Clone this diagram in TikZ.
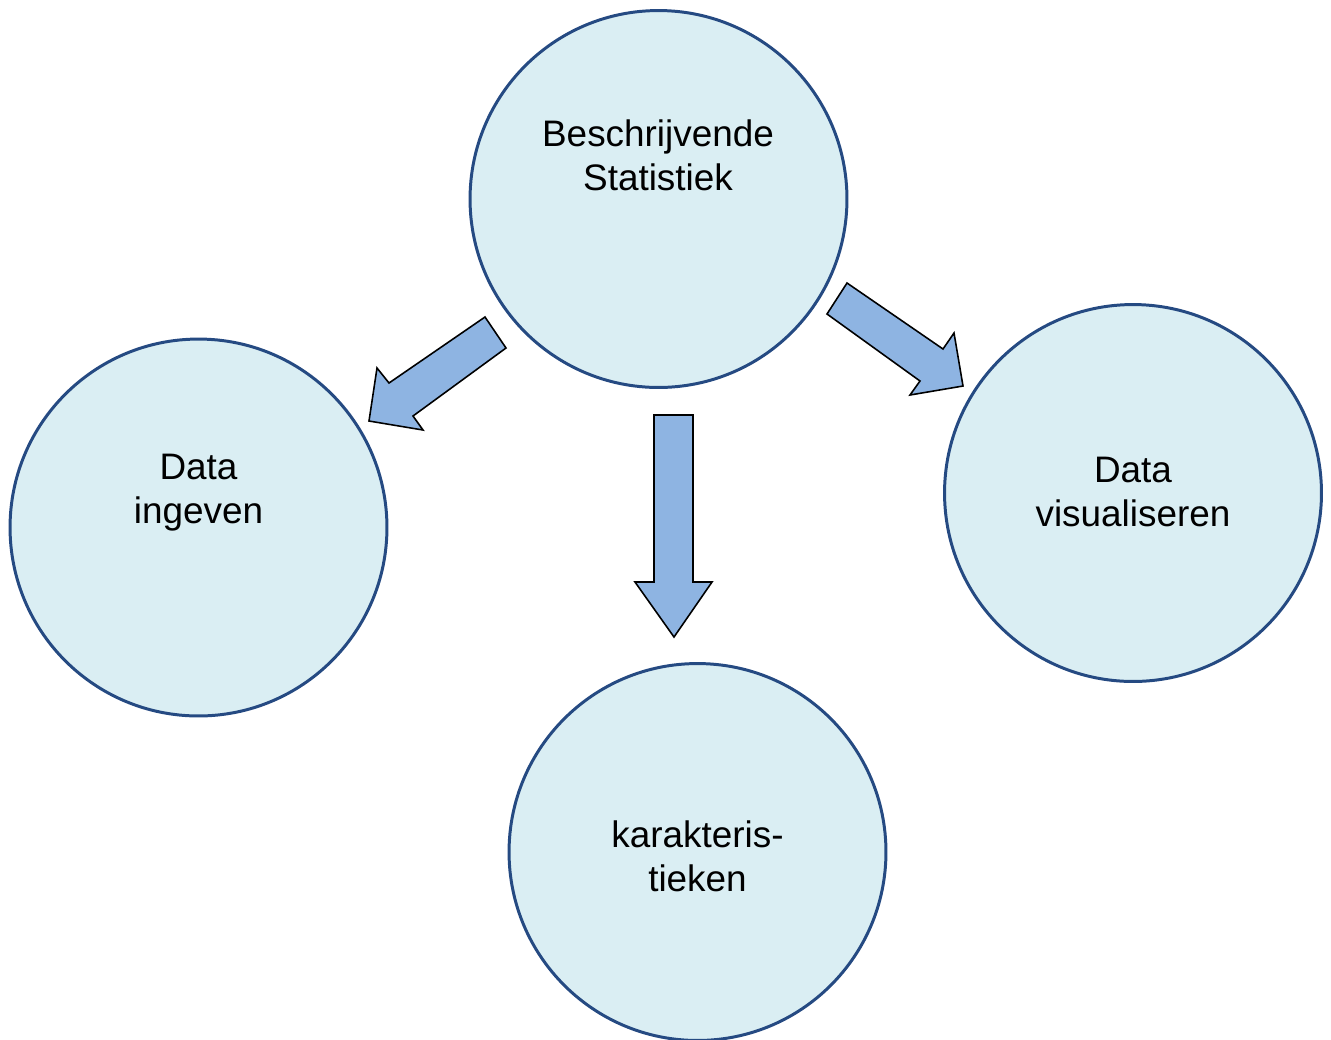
\documentclass[tikz,border=0pt]{standalone}
\usepackage{fontspec}
\setmainfont{Liberation Sans}
\definecolor{circfill}{HTML}{DAEEF3}
\definecolor{circline}{HTML}{254A82}
\definecolor{arrfill}{HTML}{8EB4E2}
\begin{document}
\begin{tikzpicture}[x=0.02cm,y=-0.02cm,
  bubble/.style={circle,draw=circline,fill=circfill,line width=1.7pt,minimum size=7.54cm,inner sep=0pt},
  lbl/.style={align=center,font=\fontsize{21}{25}\selectfont,inner sep=0pt},
  blockarrow/.style={draw=black,fill=arrfill,line width=0.9pt,line join=miter}]
\useasboundingbox (0,0) rectangle (1331,1039);
\node[bubble] (top) at (658.5,199) {};
\node[bubble] (left) at (198.5,527.5) {};
\node[bubble] (right) at (1133,493) {};
\node[bubble] (bottom) at (697.5,852) {};
\node[lbl] (ttop) at (658,155) {Beschrijvende\\Statistiek};
\node[lbl] (tleft) at (198.5,493) {Data\\ingeven};
\node[lbl] (tright) at (1133,492) {Data\\visualiseren};
\node[lbl] (tbottom) at (697.5,856) {karakteris-\\tieken};
% left arrow
\draw[blockarrow] (485,317) -- (506,348) -- (413,416) -- (423,430) -- (369,421) -- (377,368) -- (389,383) -- cycle;
% down arrow
\draw[blockarrow] (654,415) -- (693,415) -- (693,582) -- (712,582) -- (674,637) -- (635,582) -- (654,582) -- cycle;
% right arrow
\draw[blockarrow] (847,283) -- (943,349) -- (954,333) -- (963,386) -- (910,395) -- (920,381) -- (827,314) -- cycle;
\end{tikzpicture}
\end{document}
